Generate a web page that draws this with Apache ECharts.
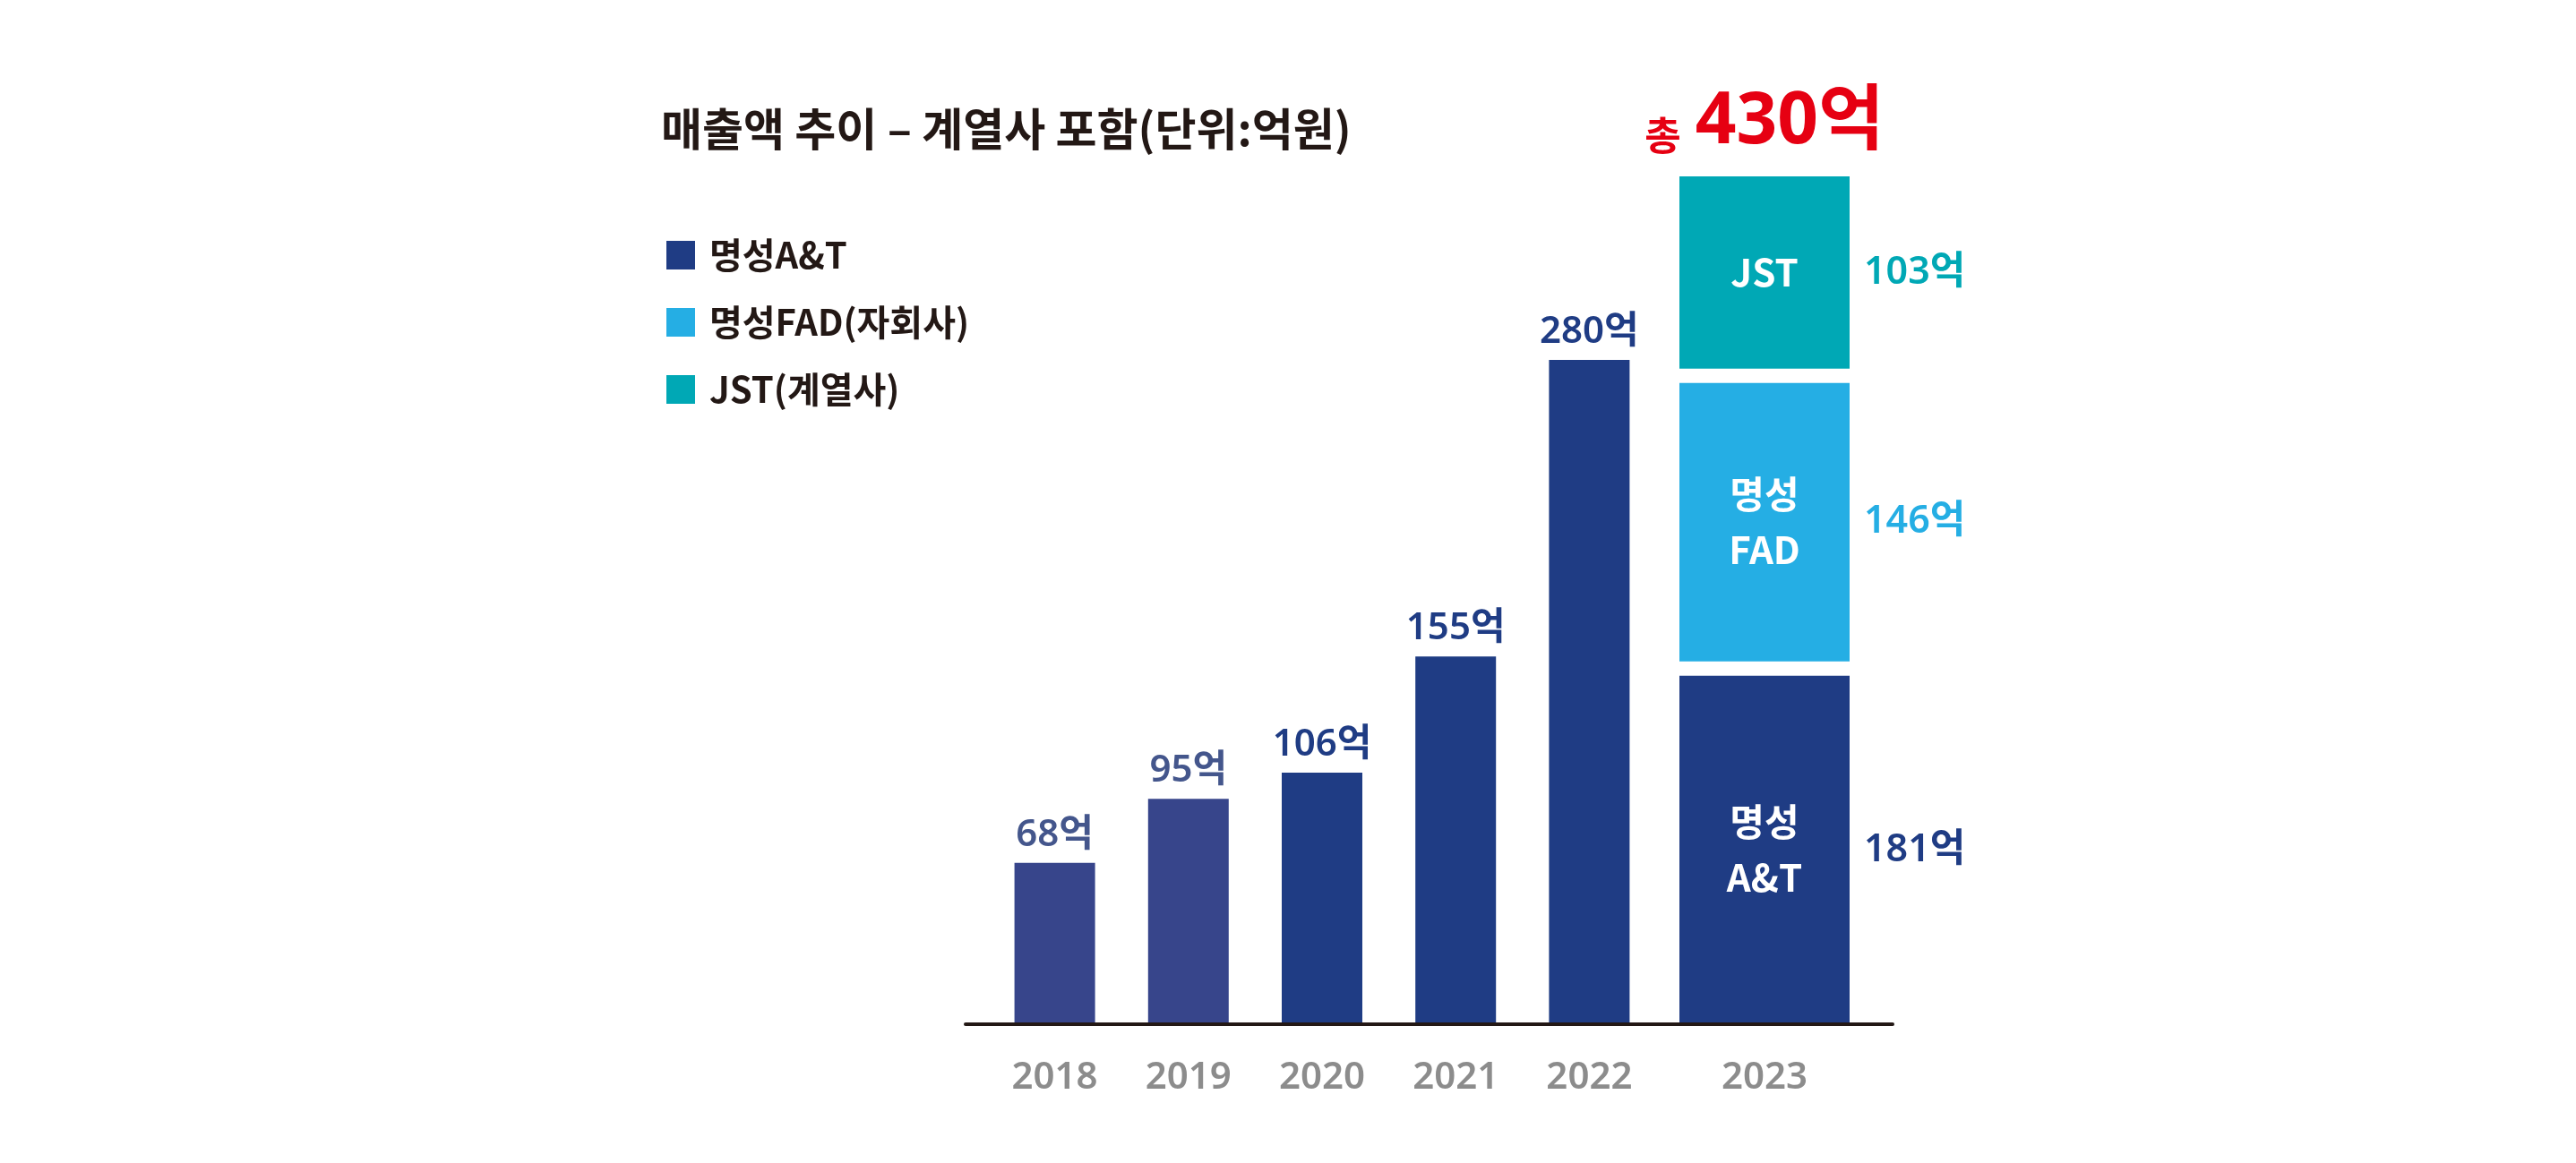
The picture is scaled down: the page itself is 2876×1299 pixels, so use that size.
<!DOCTYPE html>
<html>
<head>
<meta charset="utf-8">
<script src="https://cdn.jsdelivr.net/npm/echarts@6/dist/echarts.min.js"></script>
<style>
html,body{margin:0;padding:0;background:#ffffff;}
#c{width:2876px;height:1299px;}
</style>
</head>
<body>
<div id="c"></div>
<script>
// ---- data ----
const years = ['2018', '2019', '2020', '2021', '2022'];
const atValues = [68, 95, 106, 155, 280];
const year2023 = ['2023'];
const at2023 = [181];
const fad2023 = [146];
const jst2023 = [103];
const segmentNames = ['명성A&T', '명성FAD(자회사)', 'JST(계열사)'];
const segmentInsideLabels = ['명성\nA&T', '명성\nFAD', 'JST'];
const unit = '억';
const titleText = '매출액 추이 – 계열사 포함(단위:억원)';
const totalPrefix = '총';

// ---- styles ----
const NUM_FONT = "'Noto Sans', 'Noto Sans CJK KR', sans-serif";
const KR_FONT = "'Noto Sans CJK KR', 'Noto Sans', sans-serif";
const NAVY = '#1F3C84';
const NAVY_LIGHT = '#37458B';
const LABEL_LIGHT = '#44568C';
const FAD = '#25AEE4';
const JST = '#00A8B5';
const RED = '#E60012';
const GRAY = '#8C8C8C';
const INK = '#231815';
const segColors = [NAVY, FAD, JST];
const lightCount = 2;
const gapBorder = { borderColor: 'rgba(0,0,0,0)', borderWidth: 16 };
const CLEAR = 'rgba(0,0,0,0)';

const segData = [at2023, fad2023, jst2023];
const total2023 = segData.reduce((s, arr) => s + arr[0], 0);

const chart = echarts.init(document.getElementById('c'), null, { renderer: 'canvas' });

const yearLabel = { fontFamily: NUM_FONT, fontSize: 42, fontWeight: 600, color: GRAY, verticalAlign: 'middle' };

const series = [];
// 2018-2022
series.push({
  name: segmentNames[0],
  type: 'bar',
  xAxisIndex: 0, yAxisIndex: 0,
  barWidth: 90,
  data: atValues.map((v, i) => ({
    value: v,
    itemStyle: { color: i < lightCount ? NAVY_LIGHT : NAVY },
    label: { color: i < lightCount ? LABEL_LIGHT : NAVY }
  })),
  label: {
    show: true, position: 'top', distance: 10,
    formatter: p => p.value + unit,
    fontFamily: NUM_FONT, fontSize: 42, fontWeight: 600
  }
});
// 2023 stacked segments
segData.forEach((arr, i) => {
  series.push({
    name: segmentNames[i],
    type: 'bar',
    xAxisIndex: 1, yAxisIndex: 1,
    stack: 'seg',
    barWidth: 206, barGap: '-100%',
    itemStyle: Object.assign({ color: segColors[i] }, gapBorder),
    data: arr,
    label: {
      show: true, position: 'inside',
      formatter: () => segmentInsideLabels[i],
      fontFamily: KR_FONT, fontSize: 42, fontWeight: 'bold', lineHeight: 62, color: '#ffffff'
    }
  });
});
// value labels at right of each 2023 segment
segData.forEach((arr, i) => {
  series.push({
    name: 'val' + i,
    type: 'bar',
    xAxisIndex: 1, yAxisIndex: 1,
    stack: 'val',
    barWidth: 206, barGap: '-100%',
    itemStyle: Object.assign({ color: CLEAR }, gapBorder),
    data: arr,
    label: {
      show: true, position: 'right', distance: 8,
      formatter: p => p.value + unit,
      fontFamily: NUM_FONT, fontSize: 43, fontWeight: 600, color: segColors[i]
    }
  });
});
// total label
series.push({
  name: 'total',
  type: 'bar',
  xAxisIndex: 1, yAxisIndex: 1,
  stack: 'tot',
  barWidth: 206, barGap: '-100%',
  itemStyle: Object.assign({ color: CLEAR }, gapBorder),
  data: [total2023],
  label: {
    show: true, position: 'top', distance: 12,
    formatter: p => '{s|' + totalPrefix + '}{b|' + p.value + unit + '}',
    rich: {
      s: { fontFamily: KR_FONT, fontSize: 44, fontWeight: 'bold', color: RED, padding: [0, 16, 4, 0], verticalAlign: 'bottom' },
      b: { fontFamily: NUM_FONT, fontSize: 80, fontWeight: 'bold', color: RED, verticalAlign: 'bottom' }
    }
  }
});

const option = {
  animation: false,
  backgroundColor: '#ffffff',
  title: {
    text: titleText, left: 738, top: 119, padding: 0,
    textStyle: { fontFamily: KR_FONT, fontSize: 50, fontWeight: 'bold', color: INK }
  },
  legend: {
    orient: 'vertical', left: 739, top: 260,
    itemWidth: 32, itemHeight: 32, itemGap: 35, icon: 'rect',
    itemStyle: { borderWidth: 0 },
    textStyle: { fontFamily: KR_FONT, fontSize: 40, fontWeight: 'bold', color: INK, lineHeight: 40, padding: [0, 0, 0, 11] },
    data: segmentNames.map((n, i) => ({ name: n, itemStyle: { color: segColors[i], borderWidth: 0 } }))
  },
  grid: [
    { left: 1103, width: 746, top: 349, height: 795 },
    { left: 1870, width: 200, top: 189, height: 963 },
    { left: 1078, width: 1035, top: 1000, height: 144 }
  ],
  xAxis: [
    { type: 'category', gridIndex: 0, data: years, axisLine: { show: false }, axisTick: { show: false },
      axisLabel: Object.assign({ margin: 60 }, yearLabel) },
    { type: 'category', gridIndex: 1, data: year2023, axisLine: { show: false }, axisTick: { show: false },
      axisLabel: Object.assign({ margin: 52 }, yearLabel) },
    { type: 'value', gridIndex: 2, min: 0, max: 1, z: 10,
      axisLine: { show: true, onZero: false, lineStyle: { color: INK, width: 4 } },
      axisTick: { show: false }, axisLabel: { show: false }, splitLine: { show: false } }
  ],
  yAxis: [
    { type: 'value', gridIndex: 0, min: 0, max: 300, show: false },
    { type: 'value', gridIndex: 1, min: 0, max: 'dataMax', show: false },
    { type: 'value', gridIndex: 2, min: 0, max: 1, show: false }
  ],
  series: series
};
chart.setOption(option);
</script>
</body>
</html>
